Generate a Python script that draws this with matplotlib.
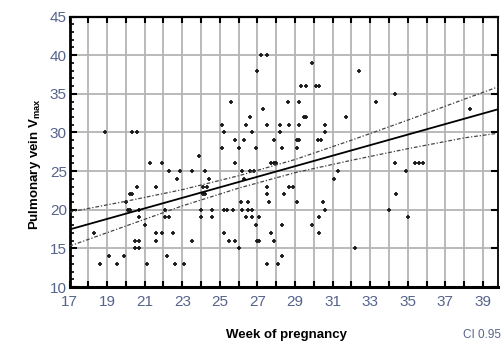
import matplotlib
matplotlib.use("Agg")
import matplotlib.pyplot as plt
from matplotlib.ticker import MultipleLocator, FuncFormatter

plt.rcParams["font.family"] = ["Liberation Sans", "DejaVu Sans"]

# scatter points (week of pregnancy, V max)
week = [18.9, 20.3, 20.6, 23.9, 21.3, 21.9, 27.2, 27.5, 29.9, 27.0,
        29.3, 29.6, 30.1, 30.3, 25.6, 28.6, 29.2, 27.3, 26.6, 26.4,
        29.5, 29.6, 31.7, 25.1, 27.5, 28.2, 28.7, 29.2, 30.6, 25.2,
        26.7, 28.2, 30.6, 25.8, 26.3, 27.9, 29.1, 29.2, 30.2, 30.4,
        25.1, 26.0, 26.9, 28.3, 29.1, 25.8, 28.0, 22.3, 22.9, 23.5,
        24.2, 32.4, 33.3, 34.3, 38.3, 34.3, 35.4, 35.6, 35.8, 34.9,
        34.4, 34.0, 35.0, 32.2, 31.1, 31.3, 22.7, 20.6, 21.6, 20.2,
        20.3, 20.0, 20.1, 20.2, 20.7, 20.7, 21.0, 20.5, 20.7, 20.5,
        20.7, 21.1, 18.6, 19.1, 19.5, 19.9, 18.3, 21.6, 21.9, 22.5,
        21.6, 22.1, 22.3, 22.1, 22.2, 22.6, 23.1, 23.5, 24.0, 24.6,
        24.0, 24.6, 24.1, 24.3, 24.4, 24.1, 24.2, 26.2, 26.3, 27.5,
        27.6, 28.4, 28.7, 28.9, 29.1, 26.1, 26.5, 25.2, 25.4, 25.7,
        26.2, 26.5, 26.7, 26.4, 26.7, 27.1, 26.9, 27.0, 27.1, 27.7,
        27.9, 28.3, 28.3, 27.5, 28.1, 25.2, 25.5, 25.8, 26.0, 29.9,
        30.3, 30.3, 30.5, 30.6, 26.6, 26.8, 27.9, 27.5, 27.7]
vmax = [30, 30, 30, 27, 26, 26, 40, 40, 39, 38,
        36, 36, 36, 36, 34, 34, 34, 33, 32, 31,
        32, 32, 32, 31, 31, 31, 31, 31, 31, 30,
        30, 30, 30, 29, 29, 29, 29, 29, 29, 29,
        28, 28, 28, 28, 28, 26, 26, 25, 25, 25,
        25, 38, 34, 35, 33, 26, 26, 26, 26, 25,
        22, 20, 19, 15, 24, 25, 24, 23, 23, 22,
        22, 21, 20, 20, 20, 19, 18, 16, 16, 15,
        15, 13, 13, 14, 13, 14, 17, 17, 17, 17,
        16, 19, 19, 20, 14, 13, 13, 16, 20, 20,
        19, 19, 23, 23, 24, 22, 22, 25, 24, 23,
        21, 22, 23, 23, 21, 21, 21, 20, 20, 20,
        20, 20, 20, 19, 19, 19, 18, 16, 16, 17,
        16, 18, 14, 13, 13, 17, 16, 16, 15, 18,
        19, 17, 21, 20, 25, 25, 26, 22, 26]

# regression line and 0.95 confidence band
fit_x = [17, 39.8]
fit_y = [17.45, 33.0]
ci_x = [17, 20, 23, 26, 29, 32, 35, 38, 39.8]
ci_hi = [19.7, 21.1, 22.6, 24.4, 26.5, 29.0, 31.6, 34.3, 35.9]
ci_lo = [15.3, 17.9, 20.5, 22.8, 24.8, 26.4, 27.9, 29.3, 29.9]

tick_color = "#56638c"

fig = plt.figure(figsize=(5.04, 3.45), dpi=100)
ax = fig.add_axes([0.138, 0.168, 0.850, 0.784])

ax.grid(True, color="#b4b4b4", lw=1.3, zorder=0)
ax.set_axisbelow(True)

ax.plot(week, vmax, ls="none", marker="+", ms=3.5, mew=1.3, color="#1a1a1a", zorder=3)
ax.plot(fit_x, fit_y, color="black", lw=1.3, zorder=4)
band_style = (0, (3, 1.5, 1, 1.5))
ax.plot(ci_x, ci_hi, color="#444444", lw=0.9, ls=band_style, zorder=4)
ax.plot(ci_x, ci_lo, color="#444444", lw=0.9, ls=band_style, zorder=4)

ax.set_xlim(17, 39.8)
ax.set_ylim(10, 45)
ax.xaxis.set_major_locator(MultipleLocator(1))
ax.xaxis.set_major_formatter(FuncFormatter(lambda v, p: f"{int(round(v))}" if int(round(v)) % 2 == 1 else ""))
ax.yaxis.set_major_locator(MultipleLocator(5))
ax.yaxis.set_minor_locator(MultipleLocator(1))

ax.tick_params(axis="x", which="major", direction="in", length=4, width=1.5,
               top=True, bottom=True, pad=6, labelsize=11, labelcolor=tick_color)
ax.tick_params(axis="y", which="major", direction="in", length=5, width=1.5,
               left=True, right=True, pad=2, labelsize=11, labelcolor=tick_color)
ax.tick_params(axis="y", which="minor", direction="in", length=3, width=1.2,
               left=True, right=False)

for side, w in [("left", 2.0), ("bottom", 2.2), ("top", 1.6), ("right", 1.3)]:
    ax.spines[side].set_linewidth(w)
    ax.spines[side].set_color("black")

fig.text(0.07, 0.525, "Pulmonary vein V$_{\\mathregular{max}}$", rotation=90,
         ha="center", va="center", fontsize=9.5, fontweight="bold")
fig.text(0.568, 0.029, "Week of pregnancy", ha="center", va="center",
         fontsize=9.5, fontweight="bold")
fig.text(0.995, 0.029, "CI 0.95", ha="right", va="center",
         fontsize=8.5, color=tick_color)

fig.savefig("out.png", dpi=100)
